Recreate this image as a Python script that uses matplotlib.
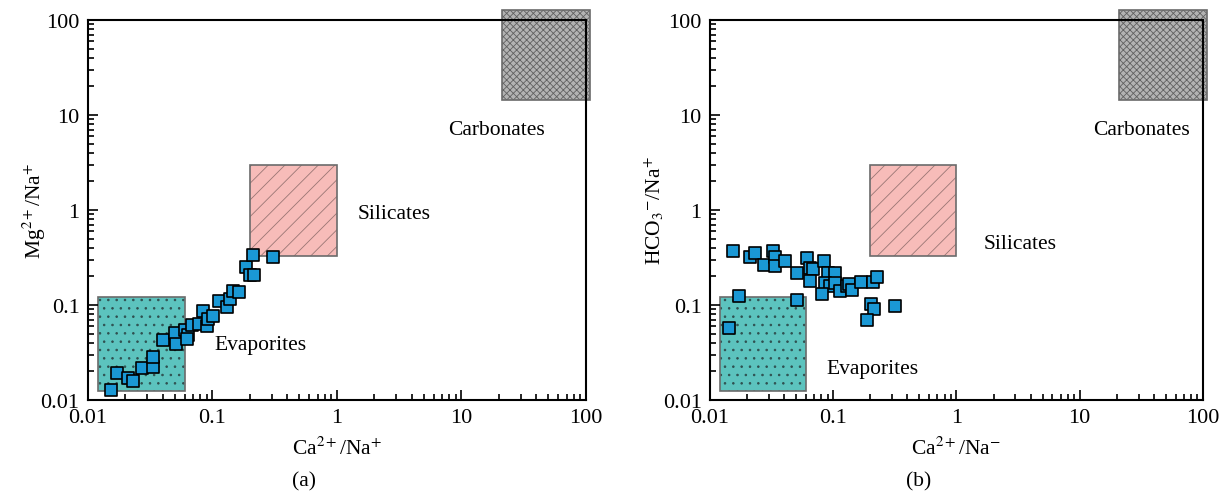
import matplotlib.pyplot as plt
from matplotlib.patches import Rectangle
from matplotlib.ticker import LogLocator, FixedLocator, FixedFormatter, NullFormatter

plt.rcParams['font.family'] = ['Liberation Serif', 'DejaVu Serif']
plt.rcParams['mathtext.fontset'] = 'stix'
plt.rcParams['hatch.linewidth'] = 0.6

# Panel (a): Mg2+/Na+ vs Ca2+/Na+
ca_na_a = [0.0153, 0.0170, 0.0208, 0.0229, 0.0270, 0.0331, 0.0331, 0.0403, 0.0502, 0.0509,
           0.0598, 0.0632, 0.0621, 0.0681, 0.0783, 0.0834, 0.0898, 0.0925, 0.1014, 0.1135,
           0.130, 0.138, 0.147, 0.164, 0.186, 0.200, 0.217, 0.210, 0.308]
mg_na = [0.0128, 0.0194, 0.0169, 0.0157, 0.0215, 0.0224, 0.0281, 0.0430, 0.0505, 0.0385,
         0.0547, 0.0478, 0.0437, 0.0613, 0.0628, 0.0866, 0.0594, 0.0708, 0.0767, 0.110,
         0.0955, 0.115, 0.140, 0.138, 0.251, 0.205, 0.205, 0.339, 0.323]

# Panel (b): HCO3-/Na+ vs Ca2+/Na+
ca_na_b = [0.0155, 0.0211, 0.0232, 0.0274, 0.0326, 0.0337, 0.0337, 0.0406, 0.0609, 0.0511,
           0.0648, 0.0689, 0.0648, 0.0846, 0.0912, 0.1033, 0.0857, 0.0941, 0.0806, 0.1033,
           0.1135, 0.1286, 0.1342, 0.141, 0.167, 0.211, 0.225, 0.201, 0.214, 0.187,
           0.317, 0.0172, 0.0505, 0.01426]
hco3_na = [0.370, 0.322, 0.350, 0.266, 0.370, 0.318, 0.255, 0.292, 0.310, 0.217,
           0.243, 0.239, 0.178, 0.288, 0.217, 0.217, 0.171, 0.157, 0.131, 0.171,
           0.141, 0.160, 0.166, 0.144, 0.173, 0.173, 0.196, 0.1025, 0.0908, 0.070,
           0.0969, 0.125, 0.113, 0.0577]

# end-member fields: (x0, x1, y0, y1)
evaporites = (0.012, 0.06, 0.0125, 0.12)
silicates = (0.2, 1.0, 0.33, 3.0)
carbonates = (21, 108, 14.5, 128)

fig = plt.figure(figsize=(12.25, 5.02), dpi=100)
ax1 = fig.add_axes([0.0718, 0.2012, 0.4065, 0.757])
ax2 = fig.add_axes([0.5796, 0.2012, 0.4024, 0.757])

FS = 15.5


def draw_panel(ax, x, y, ylabel, xlabel, ylab_x, carb_txt, sil_txt, evap_txt):
    for box, fc, hatch, hc in [(evaporites, '#5cc3be', '..', '#2f4f4f'),
                               (silicates, '#f7bcb9', '//', '#9a7674'),
                               (carbonates, '#b3b3b3', 'xxxxx', '#616161')]:
        x0, x1, y0, y1 = box
        ax.add_patch(Rectangle((x0, y0), x1 - x0, y1 - y0, facecolor=fc, edgecolor=hc,
                               hatch=hatch, linewidth=0, clip_on=False, zorder=1))
        ax.add_patch(Rectangle((x0, y0), x1 - x0, y1 - y0, facecolor='none',
                               edgecolor='#6b6b6b', linewidth=1.2, clip_on=False, zorder=1.5))
    ax.scatter(x, y, marker='s', s=70, facecolor='#1a98d5', edgecolor='black',
               linewidth=1.2, zorder=3, clip_on=False)
    ax.set_xscale('log')
    ax.set_yscale('log')
    ax.set_xlim(0.01, 100)
    ax.set_ylim(0.01, 100)
    ticks = [0.01, 0.1, 1, 10, 100]
    labels = ['0.01', '0.1', '1', '10', '100']
    for axis in (ax.xaxis, ax.yaxis):
        axis.set_major_locator(FixedLocator(ticks))
        axis.set_major_formatter(FixedFormatter(labels))
        axis.set_minor_locator(LogLocator(base=10, subs=range(2, 10)))
        axis.set_minor_formatter(NullFormatter())
    ax.tick_params(which='both', direction='in', top=False, right=False,
                   labelsize=16, width=1.2)
    ax.tick_params(which='major', length=7)
    ax.tick_params(which='minor', length=4)
    ax.tick_params(axis='x', pad=6)
    ax.tick_params(axis='y', pad=6)
    for sp in ax.spines.values():
        sp.set_linewidth(1.5)
        sp.set_zorder(2)
    ax.set_xlabel(xlabel, fontsize=FS)
    ax.set_ylabel(ylabel, fontsize=FS)
    ax.xaxis.set_label_coords(0.5, -0.097)
    ax.yaxis.set_label_coords(ylab_x, 0.5)
    ax.text(*carb_txt, 'Carbonates', fontsize=FS, ha='center', va='center')
    ax.text(*sil_txt, 'Silicates', fontsize=FS, ha='center', va='center')
    ax.text(*evap_txt, 'Evaporites', fontsize=FS, ha='center', va='center')


draw_panel(ax1, ca_na_a, mg_na, r'Mg$^{2+}$/Na$^{+}$', r'Ca$^{2+}$/Na$^{+}$', -0.08,
           (19.3, 7.0), (2.87, 0.91), (0.245, 0.038))
draw_panel(ax2, ca_na_b, hco3_na, r'HCO$_3$$^{-}$/Na$^{+}$', r'Ca$^{2+}$/Na$^{-}$', -0.09,
           (32, 7.0), (3.27, 0.44), (0.21, 0.0217))

fig.text(0.248, 0.04, '(a)', fontsize=FS, ha='center', va='center')
fig.text(0.75, 0.04, '(b)', fontsize=FS, ha='center', va='center')

fig.savefig('out.png', dpi=100)
